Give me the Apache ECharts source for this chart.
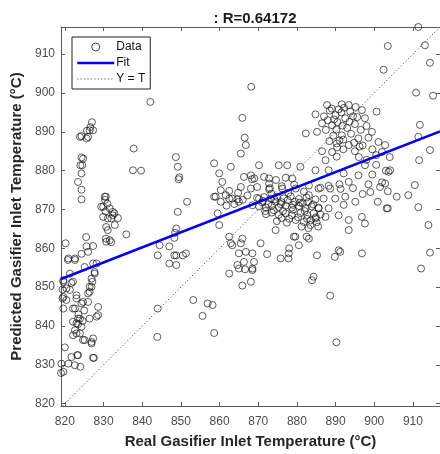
<!DOCTYPE html>
<html><head><meta charset="utf-8">
<script src="https://cdn.jsdelivr.net/npm/echarts@6/dist/echarts.min.js"></script>
<style>html,body{margin:0;padding:0;background:#fff}#c{width:440px;height:454px}</style>
</head><body><div id="c"></div>
<script>
// [real, predicted] pairs
const ptsLeftColumn = [[824.3,888.9],[827.0,892.5],[825.6,888.3],[826.4,890.4],[827.3,890.4],[825.7,890.3],[826.0,888.7],[823.9,888.7],[826.6,891.2],
  [824.7,883.1],[824.3,883.4],[824.5,881.4],[824.0,881.4],[824.3,879.3],[823.4,877.1],[824.3,875.1],[824.3,872.6]];
const ptsCluster830 = [[830.3,873.3],[830.6,873.3],[830.4,872.5],[829.4,870.7],[829.9,870.7],[831.6,870.3],[832.4,869.4],[833.7,867.8],[832.0,867.7],[832.4,868.5],[831.1,867.7],[832.9,866.0],[830.7,865.5],[831.1,864.7],[831.6,862.1],[830.7,861.7],[832.0,861.6],[830.6,862.5],[835.9,863.6],[829.9,868.1],[831.0,871.5],[832.8,869.0],[830.5,869.5]];
const ptsLeftEdge = [[820.2,861.3],[825.5,862.9],[827.3,860.6],[825.6,860.5],[824.3,858.6],[822.6,857.4],[820.9,857.4],[820.8,857.0],[822.6,857.0],[826.0,859.1],[827.3,856.1],[828.2,856.1],[825.1,855.2],[821.3,853.5],[827.7,853.9],[827.7,853.5],[826.9,852.2],[822.1,851.4],[819.6,851.8],[819.6,851.4],[821.7,851.1],[827.1,851.4],[820.4,849.7],[819.4,849.4],[826.4,850.1],[826.9,850.1],[821.3,849.3],[826.4,848.8],[826.0,848.4],[823.0,847.9],[819.4,847.1],[823.0,847.1],[820.4,846.7],[819.6,847.5],[824.7,846.2],[826.0,846.2],[824.3,845.8],[819.6,844.5],[822.1,844.5],[822.6,844.5],[828.6,844.9],[828.6,842.8],[828.2,842.4],[826.4,841.9],[823.9,841.9],[823.4,841.9],[822.1,841.1],[823.0,840.7],[824.3,839.8],[822.6,838.9],[823.9,838.1],[823.0,838.1],[822.1,837.6],[825.1,836.4],[824.7,836.4],[827.3,836.8],[826.9,835.9],[826.9,835.5],[820.0,834.5],[827.5,831.8],[827.3,831.8],[823.2,832.5],[823.4,832.5],[821.7,832.0],[820.9,830.3],[819.1,830.3],[822.6,829.9],[819.0,827.9],[819.6,828.2],[824.0,829.5],[823.4,840.5],[824.6,841.3],[823.5,843.0],[825.0,844.0]];
const ptsMidLeft = [[842.1,897.7],[837.8,885.7],[848.7,883.5],[837.6,880.1],[839.7,880.0],[849.2,881.0],[849.4,877.8],[849.6,878.3],[851.6,872.0],[849.2,869.4],[848.8,865.1],[848.5,864.0],[848.3,862.7],[844.5,860.8],[847.0,860.5],[844.0,858.2],[848.3,858.2],[848.8,858.2],[851.3,858.7],[850.5,858.2],[847.0,856.1],[848.8,855.7],[844.0,844.5],[843.9,837.2],[853.2,846.7],[856.9,845.8],[858.2,845.4],[855.6,842.6],[858.6,838.2]];
const ptsCluster865 = [[865.9,893.6],[866.5,888.5],[868.2,901.6],[865.5,884.4],[866.8,886.6],[858.6,881.9],[862.9,881.0],[859.9,879.3],[866.3,878.4],[860.7,877.1],[860.3,875.0],[859.0,873.3],[861.6,873.7],[863.3,872.8],[865.0,872.0],[865.5,875.8],[859.5,869.0],[859.9,866.0],[862.5,863.0],[865.5,861.3],[862.9,861.3],[865.0,858.7],[866.3,856.5],[865.0,854.8],[866.6,854.6],[862.5,853.5],[865.9,862.5],[863.3,860.8],[866.8,859.1],[864.6,855.7],[868.5,854.4],[865.9,850.4],[862.5,872.8],[864.6,872.6],[860.3,872.0],[861.8,871.0],[858.6,873.3],[864.8,874.3],[862.5,874.8],[866.0,872.5],[867.2,873.6],[863.8,871.4]];
const ptsCentral = [[870.2,881.4],[868.1,878.8],[869.0,878.0],[872.8,876.7],[873.0,875.5],[876.2,875.4],[878.8,878.0],[879.3,876.4],[877.5,881.4],[875.3,881.4],[880.9,881.0],[872.8,878.0],[868.1,875.4],[870.2,872.8],[868.5,871.1],[874.5,872.0],[870.6,861.3],[868.5,858.7],[868.9,856.5],[868.5,854.8],[868.1,851.4],[872.3,858.5],[875.8,857.4],[877.8,857.4],[877.9,858.7],[878.0,860.0],[880.5,860.8],[879.6,863.0],[879.2,863.0],[883.1,862.5],[882.5,863.0],[874.5,864.7],[885.2,858.2],[884.3,852.7],[883.9,851.8],
  [869.7,873.0],[871.5,873.2],[873.3,872.8],[874.8,873.3],[876.6,872.9],[878.4,873.4],[880.5,872.7],[882.5,873.1],[884.8,872.6],
  [870.2,870.8],[872.0,870.5],[873.5,871.0],[875.3,870.6],[877.1,871.0],[878.7,870.5],[880.5,870.9],[882.3,870.4],[883.8,870.8],[885.6,870.5],
  [872.0,868.8],[873.5,869.2],[875.3,868.6],[877.1,869.0],[878.7,868.5],[880.9,869.1],[882.7,868.6],[884.3,869.0],[886.1,868.7],
  [874.8,867.0],[877.4,866.6],[879.7,867.3],[881.8,866.8],[883.6,867.2],[885.1,866.7],
  [869.7,875.8],[872.8,875.2],[876.1,876.0],[879.7,875.4],[883.1,876.2],[886.1,875.6],[888.2,876.1],[891.3,875.3],
  [868.4,877.8],[871.5,878.4],[874.6,877.6],[877.1,878.2],[871.0,871.8],[876.0,871.9],[879.5,872.0],[881.5,871.6],[874.0,869.8],[879.0,869.9],[882.0,869.6],
  [871.2,872.2],[872.6,871.4],[874.2,872.6],[875.8,871.4],[877.6,872.4],[879.0,871.2],[880.8,871.8],[882.9,871.9],[884.2,871.3],[871.8,869.6],[876.4,869.6],[878.0,867.6],[880.3,868.0],[882.6,867.6],[884.9,868.0],[876.0,867.8],[881.2,865.6],[883.0,865.2],[885.5,865.6],[873.4,874.1],[877.8,874.3],[881.8,874.6]];
const ptsRightMid = [[887.4,882.7],[890.3,883.6],[884.8,880.1],[888.2,880.1],[892.1,879.3],[895.9,878.8],[897.6,881.4],[893.4,877.1],[888.6,875.4],[885.6,875.4],[883.1,873.7],[886.9,872.8],[889.9,872.8],[892.5,873.3],[895.1,872.0],[892.1,871.2],[888.2,870.3],[885.6,870.3],[887.4,868.1],[884.8,867.7],[883.5,866.0],[897.6,866.4],[896.8,868.1],[893.4,864.7],[893.4,867.3],[890.8,868.5],[896.8,858.7],[890.8,859.5],[889.8,857.8],[891.2,859.1],[888.6,847.8],[890.2,835.8],[903.5,874.7],[903.5,870.3],[900.9,872.0],[904.1,880.1],[903.0,880.0],[901.5,875.8],[902.0,877.0],[903.7,879.7],[902.8,876.7],[905.8,873.3],[908.8,873.7],[910.5,876.3],[911.4,870.6],[914.0,866.0],[914.4,858.9],[912.1,854.8],[911.6,882.7],[903.2,870.3],[899.0,874.5],[898.5,876.5],[897.0,874.0],[899.5,879.0],[900.5,881.5],[894.5,875.5],[891.0,876.5]];
const ptsUpperCluster = [[882.3,889.6],[884.8,894.5],[887.8,896.9],[891.6,897.1],[893.4,896.9],[896.8,895.6],[900.6,895.2],[899.4,890.0],[885.2,890.0],[886.5,892.2],[889.1,891.7],[897.6,893.5],[895.9,888.3],[891.6,889.1],[893.4,886.6],[902.8,886.6],[901.1,887.4],[890.3,887.0],[886.5,885.0],[889.1,884.8],[888.5,895.5],[890.0,894.3],[891.5,895.0],[889.0,896.0],[887.0,894.0],[892.5,893.5],[894.5,894.0],[895.0,892.0],[893.0,891.0],[890.5,892.5],[888.0,893.0],[887.5,890.5],[892.0,888.0],[894.0,889.5],[896.5,890.5],[898.0,891.5],[898.5,888.5],[897.0,886.5],[899.5,885.5],[895.0,885.0],[892.0,885.5],[900.5,884.0],[902.0,884.8],[904.0,883.5],[898.0,882.8],[896.0,883.5],
  [889.6,893.2],[890.8,895.8],[892.2,896.2],[893.8,895.2],[895.2,896.4],[890.2,890.6],[891.8,891.6],[893.6,892.6],[895.6,893.8],[889.4,889.0],[891.0,887.8],[894.8,887.2],[896.2,886.2],[888.4,887.6],[890.4,886.0]];
const ptsFarRight = [[911.4,917.0],[903.5,912.1],[913.1,912.3],[914.4,907.8],[902.4,906.0],[910.8,900.1],[915.2,899.3],[911.8,891.8],[911.4,888.7],[914.4,885.3]];

const fitLine = [[819, 852.1], [917, 890.1]];
const identityLine = [[819.4, 819.4], [917, 917]];
const tickValues = [820, 830, 840, 850, 860, 870, 880, 890, 900, 910];
const titleText = ': R=0.64172';
const xName = 'Real Gasifier Inlet Temperature (°C)';
const yName = 'Predicted Gasifier Inlet Temperature (°C)';

const allPts = [].concat(ptsLeftColumn, ptsCluster830, ptsLeftEdge, ptsMidLeft, ptsCluster865, ptsCentral, ptsRightMid, ptsUpperCluster, ptsFarRight);

const chart = echarts.init(document.getElementById('c'), null, {renderer: 'canvas'});
const axisCol = '#5a5a5a';
const font = 'Liberation Sans, Arial, Helvetica, sans-serif';
function baseAxis(extra) {
  return Object.assign({
    type: 'value',
    splitLine: {show: false},
    axisLine: {show: true, onZero: false, lineStyle: {color: axisCol, width: 1}},
    axisTick: {show: true, inside: true, length: 4, lineStyle: {color: axisCol}, customValues: tickValues},
    axisLabel: {show: false, customValues: tickValues}
  }, extra);
}
const hiddenSymbol = {color: 'transparent', borderColor: 'transparent', borderWidth: 0, opacity: 0};
chart.setOption({
  animation: false,
  backgroundColor: '#fff',
  title: {text: titleText, left: 250, textAlign: 'center', top: 6,
    textStyle: {fontFamily: font, fontSize: 15, fontWeight: 'bold', color: '#1a1a1a'}},
  legend: {
    orient: 'vertical', left: 72, top: 37, padding: [4, 5, 4, 4], itemGap: 4,
    itemWidth: 37, itemHeight: 8, borderColor: '#222', borderWidth: 1, backgroundColor: '#fff',
    textStyle: {fontFamily: font, fontSize: 12, color: '#111', padding: [0, 0, 0, -3]},
    data: [
      {name: 'Data', icon: 'circle', itemStyle: {color: 'transparent', borderColor: '#222', borderWidth: 1}},
      {name: 'Fit', itemStyle: hiddenSymbol, lineStyle: {color: '#0000ee', width: 2.5, opacity: 1}},
      {name: 'Y = T', itemStyle: hiddenSymbol, lineStyle: {color: '#555', width: 1, type: [1.2, 2.2], opacity: 1}}
    ]
  },
  grid: {left: 61, top: 27, width: 381, height: 379, containLabel: false},
  xAxis: [
    baseAxis({min: 819, max: 917, position: 'bottom', name: xName, nameLocation: 'middle', nameGap: 28,
      nameTextStyle: {fontFamily: font, fontSize: 15, fontWeight: 'bold', color: '#262626'},
      axisLabel: {show: true, customValues: tickValues, margin: 10, fontFamily: font, fontSize: 12, color: '#4d4d4d'}}),
    baseAxis({min: 819, max: 917, position: 'top'})
  ],
  yAxis: [
    baseAxis({min: 819.4, max: 917, position: 'left', name: yName, nameLocation: 'middle', nameGap: 33,
      nameTextStyle: {fontFamily: font, fontSize: 15, fontWeight: 'bold', color: '#262626'},
      axisLabel: {show: true, customValues: tickValues, margin: 6, fontFamily: font, fontSize: 12, color: '#4d4d4d'}}),
    baseAxis({min: 819.4, max: 917, position: 'right'})
  ],
  series: [
    {name: 'Data', type: 'scatter', data: allPts, symbol: 'circle', symbolSize: 7,
      itemStyle: {color: 'transparent', borderColor: 'rgba(20,20,20,0.85)', borderWidth: 1}, clip: true, z: 2},
    {name: 'Fit', type: 'line', data: fitLine, showSymbol: false, symbol: 'none',
      itemStyle: {color: '#0000ee'},
      lineStyle: {color: '#0000ee', width: 2.5}, z: 3},
    {name: 'Y = T', type: 'line', data: identityLine, showSymbol: false, symbol: 'none',
      itemStyle: {color: '#555'},
      lineStyle: {color: '#555', width: 1, type: [1.2, 2.2]}, z: 4}
  ]
});
</script>
</body></html>
